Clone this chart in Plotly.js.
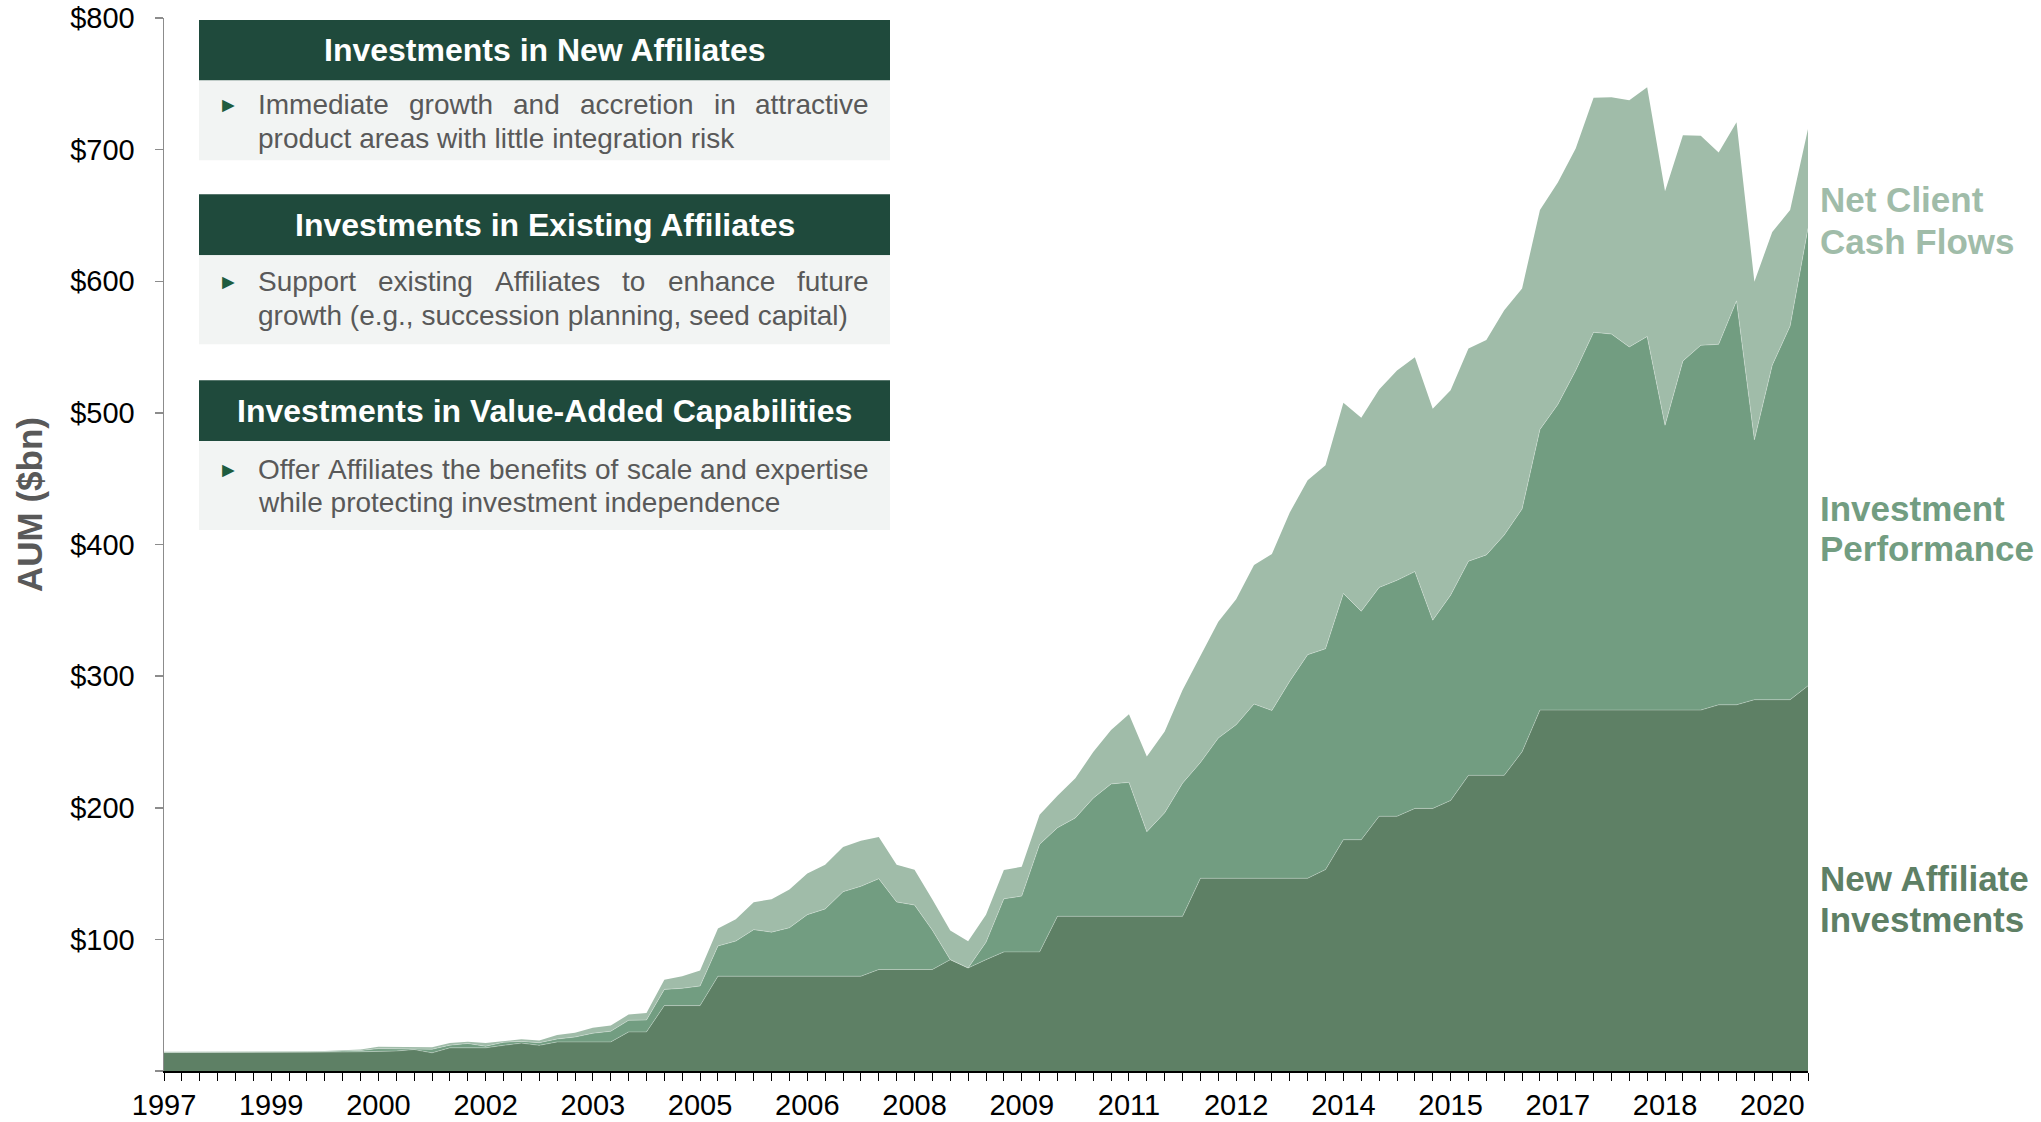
<!DOCTYPE html>
<html>
<head>
<meta charset="utf-8">
<script src="https://cdn.plot.ly/plotly-3.0.1.min.js"></script>
<style>
  html, body { margin: 0; padding: 0; background: #ffffff; }
  #chart { width: 2041px; height: 1122px; }
</style>
</head>
<body>
<div id="chart"></div>
<script>
// ---------------- DATA (quarterly, Q4 1997 .. Q4 2020, $bn) ----------------
const newAffiliateInvestments = [
  14.0,14.0,14.1,14.1,14.2,14.2,14.3,14.3,14.3,14.4,
  14.4,14.6,15.0,15.2,16.3,13.8,17.6,17.6,17.6,19.5,
  21.2,19.5,22.1,22.1,22.1,22.1,29.7,29.7,49.7,49.7,
  49.7,72.0,72.0,72.0,72.0,72.0,72.0,72.0,72.0,72.0,
  77.1,77.1,77.1,77.1,84.6,78.3,84.6,90.5,90.5,90.5,
  117.5,117.5,117.5,117.5,117.5,117.5,117.5,117.5,146.4,146.4,
  146.4,146.4,146.4,146.4,146.4,153.0,175.7,175.7,193.5,193.5,
  199.5,199.5,205.5,224.6,224.6,224.6,242.5,274.2,274.2,274.2,
  274.2,274.2,274.2,274.2,274.2,274.2,274.2,278.2,278.2,282.1,
  282.1,282.1,292.6
];
const investmentPerformance = [
  0.2,0.2,0.2,0.2,0.2,0.2,0.2,0.2,0.3,0.4,
  0.6,0.9,2.0,1.6,0.7,2.7,2.0,3.3,1.2,2.3,
  1.3,2.0,2.2,3.7,6.6,8.1,8.8,9.0,12.3,13.1,
  14.9,23.0,26.7,35.4,33.5,36.8,46.8,51.1,64.2,68.3,
  69.0,51.3,49.0,29.8,0.0,0.0,13.2,40.3,42.4,81.7,
  67.3,74.8,89.8,100.6,101.8,64.3,78.7,101.2,87.9,106.5,
  116.7,132.4,127.5,149.8,169.9,167.8,187.1,173.6,173.9,179.3,
  179.9,143.0,156.0,162.7,167.5,182.6,184.5,213.2,232.2,258.0,
  287.0,285.7,275.9,283.8,216.4,265.2,277.1,273.9,306.9,197.4,
  254.1,283.9,347.6
];
const netClientCashFlows = [
  0.4,0.4,0.4,0.4,0.4,0.4,0.4,0.4,0.4,0.4,
  0.6,0.8,1.4,1.6,1.4,1.5,1.7,1.4,2.5,0.8,
  1.6,1.6,3.0,3.2,4.1,4.3,4.4,5.3,7.4,9.2,
  11.7,13.2,16.6,20.8,25.0,29.0,31.2,33.6,34.0,34.6,
  31.6,28.3,26.8,23.3,22.1,20.2,21.0,21.9,22.2,22.5,
  24.4,30.1,35.0,41.0,51.8,57.2,61.7,70.7,80.6,88.4,
  95.3,105.7,118.9,128.1,132.6,139.5,144.9,147.0,150.4,159.4,
  162.8,160.7,155.7,161.6,163.2,170.7,167.5,166.7,168.7,168.7,
  178.2,179.9,187.4,189.4,177.8,171.5,159.2,145.7,135.7,120.2,
  101.2,88.1,75.5
];
const yearTickIndex  = [0,6,12,18,24,30,36,42,48,54,60,66,72,78,84,90];
const yearTickLabels = ['1997','1999','2000','2002','2003','2005','2006','2008',
                        '2009','2011','2012','2014','2015','2017','2018','2020'];
const yTickValues = [0,100,200,300,400,500,600,700,800];
const yTickLabels = ['','$100','$200','$300','$400','$500','$600','$700','$800'];
const yAxisTitle = 'AUM ($bn)';

const boxHeaders = [
  'Investments in New Affiliates',
  'Investments in Existing Affiliates',
  'Investments in Value-Added Capabilities'
];
const boxBodies = [
  ['Immediate growth and accretion in attractive', 'product areas with little integration risk'],
  ['Support existing Affiliates to enhance future', 'growth (e.g., succession planning, seed capital)'],
  ['Offer Affiliates the benefits of scale and expertise', 'while protecting investment independence']
];
const seriesLabels = [
  ['Net Client', 'Cash Flows'],
  ['Investment', 'Performance'],
  ['New Affiliate', 'Investments']
];

// ---------------- STYLE / LAYOUT ----------------
const FONT = '"Liberation Sans", Arial, Helvetica, sans-serif';
const colDark = '#5E8065', colMid = '#729D81', colLight = '#A0BCA9';
const colHeader = '#1F4A3C', colBody = '#F2F4F3', colBodyText = '#595959';

const W = 2041, H = 1122;
const plotLeft = 164, plotRight = 1808, plotTop = 17.5, plotBottom = 1071.5;
const px2x = px => (px - plotLeft) / (plotRight - plotLeft);
const px2y = py => (plotBottom - py) / (plotBottom - plotTop);

const xIdx = newAffiliateInvestments.map((_, i) => i);

const traces = [
  { x: xIdx, y: newAffiliateInvestments, name: 'New Affiliate Investments', type: 'scatter',
    mode: 'lines', stackgroup: 'aum', fillcolor: colDark,
    line: { color: 'rgba(255,255,255,0.28)', width: 1 }, hoverinfo: 'skip' },
  { x: xIdx, y: investmentPerformance, name: 'Investment Performance', type: 'scatter',
    mode: 'lines', stackgroup: 'aum', fillcolor: colMid,
    line: { color: 'rgba(255,255,255,0.28)', width: 1 }, hoverinfo: 'skip' },
  { x: xIdx, y: netClientCashFlows, name: 'Net Client Cash Flows', type: 'scatter',
    mode: 'lines', stackgroup: 'aum', fillcolor: colLight,
    line: { color: colLight, width: 0 }, hoverinfo: 'skip' }
];

// text boxes geometry (pixels)
const boxL = 199, boxR = 890;
const headerTop = [19.5, 194, 380], headerBot = [80, 255, 441], bodyBot = [160, 344, 530];
const lineCenters = [[104, 138], [281, 315], [469, 502]];
const textL = 258, textR = 869, bulletX = 228;

const shapes = [];
const annotations = [];

const ctx = document.createElement('canvas').getContext('2d');
ctx.font = '28px "Liberation Sans"';

function textAnn(text, px, py, opts) {
  return Object.assign({
    text: text, x: px2x(px), y: px2y(py), xref: 'paper', yref: 'paper',
    showarrow: false, xanchor: 'left', yanchor: 'middle',
    borderpad: 0, borderwidth: 0
  }, opts);
}

for (let b = 0; b < 3; b++) {
  shapes.push({ type: 'rect', xref: 'paper', yref: 'paper', layer: 'above',
    x0: px2x(boxL), x1: px2x(boxR), y0: px2y(headerBot[b]), y1: px2y(headerTop[b]),
    fillcolor: colHeader, line: { width: 0 } });
  shapes.push({ type: 'rect', xref: 'paper', yref: 'paper', layer: 'above',
    x0: px2x(boxL), x1: px2x(boxR), y0: px2y(bodyBot[b]), y1: px2y(headerBot[b]),
    fillcolor: colBody, line: { width: 0 } });
  annotations.push(textAnn(boxHeaders[b], (boxL + boxR) / 2, (headerTop[b] + headerBot[b]) / 2,
    { xanchor: 'center', font: { family: FONT, size: 32, color: '#ffffff', weight: 'bold' } }));
  annotations.push(textAnn('\u25BA', bulletX, lineCenters[b][0],
    { xanchor: 'center', font: { family: FONT, size: 21, color: '#1E5C3F' } }));
  // first line justified word by word
  const words = boxBodies[b][0].split(' ');
  const widths = words.map(w => ctx.measureText(w).width);
  const total = widths.reduce((a, c) => a + c, 0);
  const gap = (textR - textL - total) / (words.length - 1);
  let cx = textL;
  words.forEach((w, k) => {
    annotations.push(textAnn(w, cx, lineCenters[b][0],
      { font: { family: FONT, size: 28, color: colBodyText } }));
    cx += widths[k] + gap;
  });
  annotations.push(textAnn(boxBodies[b][1], textL, lineCenters[b][1],
    { font: { family: FONT, size: 28, color: colBodyText } }));
}

// right-side series labels
const seriesColors = [colLight, colMid, colDark];
const seriesLineY = [[199, 241], [508, 549], [879, 920]];
for (let s = 0; s < 3; s++) {
  for (let k = 0; k < 2; k++) {
    annotations.push(textAnn(seriesLabels[s][k], 1820, seriesLineY[s][k],
      { font: { family: FONT, size: 35, color: seriesColors[s], weight: 'bold' } }));
  }
}

// y axis title
annotations.push(textAnn(yAxisTitle, 29, 505,
  { xanchor: 'center', textangle: -90,
    font: { family: FONT, size: 35, color: '#595959', weight: 'bold' } }));

const layout = {
  width: W, height: H,
  margin: { l: plotLeft, r: W - plotRight, t: plotTop, b: H - plotBottom, pad: 0 },
  paper_bgcolor: '#ffffff', plot_bgcolor: '#ffffff',
  showlegend: false,
  font: { family: FONT, color: '#000000' },
  xaxis: {
    range: [0, xIdx.length - 1], tickmode: 'array', tickvals: yearTickIndex, ticktext: yearTickLabels,
    ticks: 'outside', ticklen: 8, tickwidth: 1, tickcolor: '#000000',
    minor: { tickmode: 'linear', tick0: 0, dtick: 1, ticks: 'outside', ticklen: 8, tickwidth: 1, tickcolor: '#000000', showgrid: false },
    showline: true, linecolor: '#000000', linewidth: 1.5,
    showgrid: false, zeroline: false, fixedrange: true,
    tickfont: { family: FONT, size: 29, color: '#000000' }, ticklabelstandoff: 0
  },
  yaxis: {
    range: [0, 800], tickmode: 'array', tickvals: yTickValues, ticktext: yTickLabels,
    ticks: 'outside', ticklen: 8, tickwidth: 1.5, tickcolor: '#8c8c8c',
    showline: true, linecolor: '#8c8c8c', linewidth: 1.5,
    showgrid: false, zeroline: false, fixedrange: true,
    tickfont: { family: FONT, size: 29, color: '#000000' }, ticklabelstandoff: 14
  },
  shapes: shapes,
  annotations: annotations
};

Plotly.newPlot('chart', traces, layout, { displayModeBar: false, staticPlot: true });
</script>
</body>
</html>
